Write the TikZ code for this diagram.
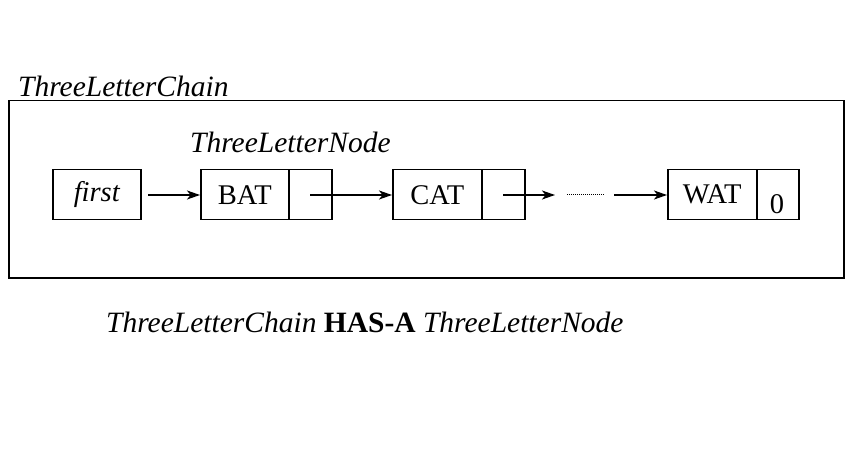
\documentclass[tikz,border=0pt]{standalone}
\usepackage{fontspec}
\setmainfont{Liberation Serif}
\usetikzlibrary{arrows.meta}
\begin{document}
\begin{tikzpicture}[x=1pt,y=-1pt,
  cell/.style={draw,line width=1.5pt,rectangle,inner sep=0pt,anchor=north west,font=\fontsize{28.5}{32}\selectfont},
  lbl/.style={inner sep=0pt,font=\fontsize{29.5}{33}\selectfont\itshape},
  link/.style={line width=1.3pt,-{Stealth[length=13pt,width=9pt,inset=3.5pt]}}]
\useasboundingbox (0,0) rectangle (854,473);
\node[draw,line width=1.5pt,rectangle,inner sep=0pt,anchor=north west,minimum width=835pt,minimum height=177pt] (chain) at (8,100) {};
\node[lbl,anchor=base west] (chainlbl) at (18,97) {ThreeLetterChain};
\node[cell,minimum width=88pt,minimum height=50pt] (first) at (52,169) {\itshape first};
\node[cell,minimum width=88pt,minimum height=50pt] (bat) at (200,169) {BAT};
\node[cell,minimum width=43pt,minimum height=50pt] (batp) at (288,169) {};
\node[lbl,anchor=base west] (nodelbl) at (190,153) {ThreeLetterNode};
\node[cell,minimum width=89pt,minimum height=50pt] (cat) at (392,169) {CAT};
\node[cell,minimum width=43pt,minimum height=50pt] (catp) at (481,169) {};
\node[cell,minimum width=89pt,minimum height=50pt] (wat) at (667,169) {WAT};
\node[cell,minimum width=42pt,minimum height=50pt] (watp) at (756,169) {};
\node[inner sep=0pt,font=\fontsize{28.5}{32}\selectfont] (zero) at (777,204) {0};
\coordinate (a1) at (148,195);
\coordinate (d1) at (567,195);
\coordinate (d2) at (605,195);
\coordinate (a3) at (614,195);
\coordinate (a2e) at (555,195);
\draw[link] (a1) -- (bat.west |- a1);
\draw[link] (batp.center |- a1) -- (cat.west |- a1);
\draw[link] (catp.center |- a1) -- (a2e);
\draw[line width=1pt,dash pattern=on 1pt off 1pt] (d1) -- (d2);
\draw[link] (a3) -- (wat.west |- a1);
\node[inner sep=0pt,anchor=base west,font=\fontsize{29.5}{33}\selectfont] (caption) at (106,332) {\textit{ThreeLetterChain} \textbf{HAS-A} \textit{ThreeLetterNode}};
\end{tikzpicture}
\end{document}
